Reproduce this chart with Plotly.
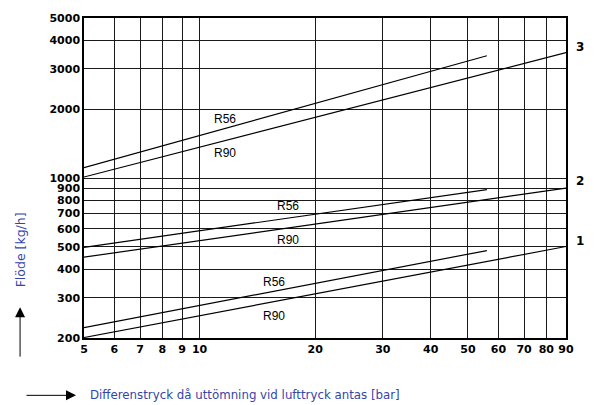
import plotly.graph_objects as go
import numpy as np

# Data: endpoints of each characteristic line (log-log straight lines)
x_r56 = [5, 56]
x_r90 = [5, 90]
curve3_r56 = [1110, 3420]
curve3_r90 = [1010, 3530]
curve2_r56 = [498, 889]
curve2_r90 = [451, 903]
curve1_r56 = [222, 482]
curve1_r90 = [201, 502]

x_ticks = [5, 6, 7, 8, 9, 10, 20, 30, 40, 50, 60, 70, 80, 90]
y_ticks = [200, 300, 400, 500, 600, 700, 800, 900, 1000, 2000, 3000, 4000, 5000]

OFF = 8  # page body margin
W, H = 594 - OFF, 405 - OFF
L, R, T, B = 84 - OFF, 566.5 - OFF, 12 - OFF, 338.5 - OFF

fig = go.Figure()
for xs, ys in [(x_r56, curve3_r56), (x_r90, curve3_r90), (x_r56, curve2_r56),
               (x_r90, curve2_r90), (x_r56, curve1_r56), (x_r90, curve1_r90)]:
    fig.add_trace(go.Scatter(x=xs, y=ys, mode="lines",
                             line=dict(color="black", width=1.2), showlegend=False,
                             hoverinfo="skip"))

tick_font = dict(family="DejaVu Sans, sans-serif", size=11, color="black")
fig.update_xaxes(type="log", range=[np.log10(5), np.log10(90)], tickvals=x_ticks,
                 ticktext=["<b>%d</b>" % v for v in x_ticks], showgrid=True, gridcolor="#1a1a1a",
                 gridwidth=1, showline=True, linecolor="black", linewidth=1.5, mirror=True,
                 ticks="", tickfont=tick_font, zeroline=False, ticklabeloverflow="allow")
fig.update_yaxes(type="log", range=[np.log10(200), np.log10(5000)], tickvals=y_ticks,
                 ticktext=["<b>%d</b>" % v for v in y_ticks], showgrid=True, gridcolor="#1a1a1a",
                 gridwidth=1, showline=True, linecolor="black", linewidth=1.5, mirror=True,
                 ticks="", tickfont=tick_font, zeroline=False, ticklabeloverflow="allow")

def px_x(p):
    return (p - OFF - L) / (R - L)

def px_y(p):
    return (B - (p - OFF)) / (B - T)

def note(text, x, y, font, **kw):
    fig.add_annotation(x=px_x(x), y=px_y(y), xref="paper", yref="paper", text=text,
                       showarrow=False, font=font, xanchor=kw.pop("xanchor", "center"),
                       yanchor="middle", **kw)

label_font = dict(family="Liberation Sans, Arial, sans-serif", size=12, color="black")
labels = [("R56", 225, 115), ("R90", 225, 150), ("R56", 288, 204), ("R90", 288, 239),
          ("R56", 274, 281), ("R90", 274, 316)]
for t, x, y in labels:
    note(t, x, y, label_font)

num_font = dict(family="DejaVu Sans, sans-serif", size=12, color="black")
for t, y in [("3", 42), ("2", 178), ("1", 240)]:
    note("<b>%s</b>" % t, 581, y, num_font)

blue = "#3444a8"
note("Flöde [kg/h]", 20, 249, dict(family="DejaVu Sans, sans-serif", size=12.5, color=blue),
     textangle=-90)
note("Differenstryck då uttömning vid lufttryck antas [bar]", 88, 397,
     dict(family="DejaVu Sans, sans-serif", size=11.8, color=blue), xanchor="left")
# arrows
fig.add_annotation(x=px_x(20), y=px_y(307), xref="paper", yref="paper", ax=0, ay=51,
                   text="", showarrow=True, arrowhead=2,
                   arrowsize=2, arrowwidth=1, arrowcolor="black")
fig.add_annotation(x=px_x(76), y=px_y(397), xref="paper", yref="paper", ax=-51, ay=0,
                   text="", showarrow=True, arrowhead=2, arrowsize=2, arrowwidth=1,
                   arrowcolor="black")

fig.update_layout(width=W, height=H, margin=dict(l=L, r=W - R, t=T, b=H - B),
                  paper_bgcolor="white", plot_bgcolor="white")
fig.write_html("out.html")
